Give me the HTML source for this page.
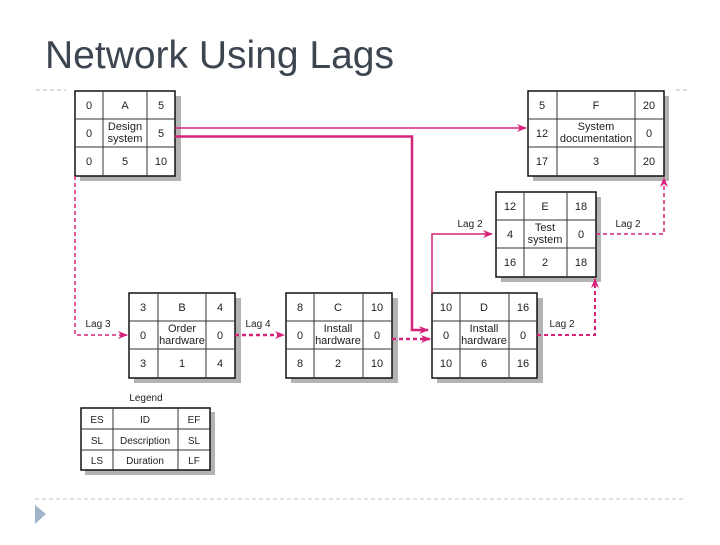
<!DOCTYPE html>
<html><head><meta charset="utf-8"><style>
body{margin:0;background:#fff;width:720px;height:540px;overflow:hidden}
svg text{font-family:"Liberation Sans",sans-serif}
</style></head><body>
<svg width="720" height="540" viewBox="0 0 720 540">
<defs>
<marker id="ar" markerWidth="10" markerHeight="8" refX="9" refY="4" orient="auto" markerUnits="userSpaceOnUse"><path d="M0,0 L10,4 L0,8 L3,4 Z" fill="#d6237a"/></marker>
</defs>
<text x="45" y="68" font-size="39" fill="#3c4550">Network Using Lags</text>
<line x1="36" y1="90" x2="66" y2="90" stroke="#bbb" stroke-dasharray="4,3"/>
<line x1="676" y1="90" x2="688" y2="90" stroke="#bbb" stroke-dasharray="4,3"/>
<line x1="35" y1="499" x2="685" y2="499" stroke="#bcc4cc" stroke-dasharray="4,3"/>
<path d="M35,505 L46,514 L35,524 Z" fill="#9fb4c8"/>

<g font-size="11" fill="#222" text-anchor="middle">
<g fill="#b3b3b3">
<rect x="80" y="96" width="101" height="85"/>
<rect x="533" y="96" width="136" height="85"/>
<rect x="501" y="197" width="100" height="85"/>
<rect x="134" y="298" width="107" height="85"/>
<rect x="291" y="298" width="107" height="85"/>
<rect x="437" y="298" width="106" height="85"/>
<rect x="85" y="412" width="130" height="63"/>
</g>
<g fill="#fff" stroke="#111" stroke-width="1.5">
<rect x="75" y="91" width="100" height="85"/>
<rect x="528" y="91" width="136" height="85"/>
<rect x="496" y="192" width="100" height="85"/>
<rect x="129" y="293" width="106" height="85"/>
<rect x="286" y="293" width="106" height="85"/>
<rect x="432" y="293" width="105" height="85"/>
<rect x="81" y="408" width="129" height="62"/>
</g>
<g stroke="#333" stroke-width="1">
<path d="M103,91V176M147,91V176M75,119H175M75,147H175"/>
<path d="M557,91V176M635,91V176M528,119H664M528,147H664"/>
<path d="M524,192V277M567,192V277M496,220H596M496,248H596"/>
<path d="M158,293V378M206,293V378M129,321H235M129,349H235"/>
<path d="M314,293V378M363,293V378M286,321H392M286,349H392"/>
<path d="M460,293V378M509,293V378M432,321H537M432,349H537"/>
<path d="M113,408V470M178,408V470M81,429H210M81,450H210"/>
</g>
<text x="89" y="109">0</text><text x="125" y="109">A</text><text x="161" y="109">5</text>
<text x="89" y="137">0</text><text x="125" y="130">Design</text><text x="125" y="142">system</text><text x="161" y="137">5</text>
<text x="89" y="165">0</text><text x="125" y="165">5</text><text x="161" y="165">10</text>
<text x="542" y="109">5</text><text x="596" y="109">F</text><text x="649" y="109">20</text>
<text x="542" y="137">12</text><text x="596" y="130">System</text><text x="596" y="142">documentation</text><text x="649" y="137">0</text>
<text x="542" y="165">17</text><text x="596" y="165">3</text><text x="649" y="165">20</text>
<text x="510" y="210">12</text><text x="545" y="210">E</text><text x="581" y="210">18</text>
<text x="510" y="238">4</text><text x="545" y="231">Test</text><text x="545" y="243">system</text><text x="581" y="238">0</text>
<text x="510" y="266">16</text><text x="545" y="266">2</text><text x="581" y="266">18</text>
<text x="143" y="311">3</text><text x="182" y="311">B</text><text x="220" y="311">4</text>
<text x="143" y="339">0</text><text x="182" y="332">Order</text><text x="182" y="344">hardware</text><text x="220" y="339">0</text>
<text x="143" y="367">3</text><text x="182" y="367">1</text><text x="220" y="367">4</text>
<text x="300" y="311">8</text><text x="338" y="311">C</text><text x="377" y="311">10</text>
<text x="300" y="339">0</text><text x="338" y="332">Install</text><text x="338" y="344">hardware</text><text x="377" y="339">0</text>
<text x="300" y="367">8</text><text x="338" y="367">2</text><text x="377" y="367">10</text>
<text x="446" y="311">10</text><text x="484" y="311">D</text><text x="523" y="311">16</text>
<text x="446" y="339">0</text><text x="484" y="332">Install</text><text x="484" y="344">hardware</text><text x="523" y="339">0</text>
<text x="446" y="367">10</text><text x="484" y="367">6</text><text x="523" y="367">16</text>
<text x="146" y="401" font-size="10">Legend</text>
<text x="97" y="423" font-size="10">ES</text><text x="145" y="423" font-size="10">ID</text><text x="194" y="423" font-size="10">EF</text>
<text x="97" y="444" font-size="10">SL</text><text x="145" y="444" font-size="10">Description</text><text x="194" y="444" font-size="10">SL</text>
<text x="97" y="464" font-size="10">LS</text><text x="145" y="464" font-size="10">Duration</text><text x="194" y="464" font-size="10">LF</text>
<text x="98" y="327" font-size="10">Lag 3</text>
<text x="258" y="327" font-size="10">Lag 4</text>
<text x="470" y="227" font-size="10">Lag 2</text>
<text x="628" y="227" font-size="10">Lag 2</text>
<text x="562" y="327" font-size="10">Lag 2</text>
</g>

<g fill="none" stroke="#d6237a" stroke-width="1.5">
<line x1="175" y1="128" x2="526" y2="128" marker-end="url(#ar)"/>
<path d="M175,136.5 H412 V330 H428" stroke-width="2.5" marker-end="url(#ar)"/>
<path d="M432,293 V234 H492" marker-end="url(#ar)"/>
</g>
<g fill="none" stroke="#d6237a" stroke-width="1.5" stroke-dasharray="4,3">
<path d="M75,176 V335 H127" marker-end="url(#ar)"/>
<path d="M235,335 H284" stroke-width="2.5" marker-end="url(#ar)"/>
<path d="M392,339 H430" stroke-width="2.5" marker-end="url(#ar)"/>
<path d="M537,335 H595 V279" stroke-width="2" marker-end="url(#ar)"/>
<path d="M596,234 H664 V178" marker-end="url(#ar)"/>
</g>
</svg>
</body></html>
